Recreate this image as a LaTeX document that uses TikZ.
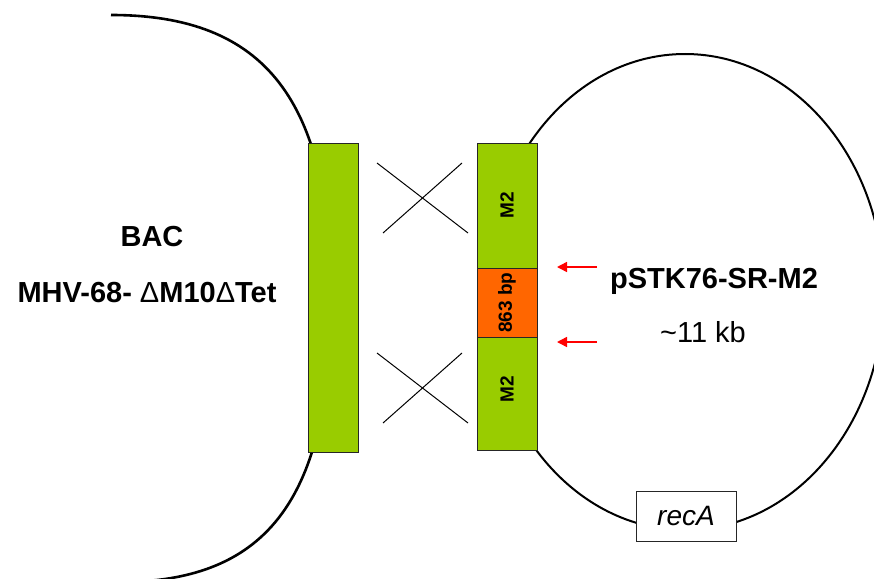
\documentclass[tikz,border=0pt]{standalone}
\usepackage{fontspec}
\setmainfont{Liberation Sans}
\usetikzlibrary{positioning,arrows.meta}

\definecolor{armgreen}{HTML}{99CC00}
\definecolor{insorange}{HTML}{FF6600}

\begin{document}
\begin{tikzpicture}[
  x=1pt,y=-1pt,
  >={Triangle[length=10pt,width=10pt]},
  arm/.style={rectangle,draw=black!85,fill=armgreen,line width=1pt,
              inner sep=0pt,outer sep=0pt},
  ins/.style={rectangle,draw=black!85,fill=insorange,line width=1pt,
              inner sep=0pt,outer sep=0pt},
  boxlab/.style={rotate=90,font=\fontsize{19}{20}\selectfont\bfseries},
  lab/.style={anchor=base,font=\fontsize{29}{32}\selectfont\bfseries},
  sub/.style={anchor=base,font=\fontsize{29}{32}\selectfont},
  gene/.style={rectangle,draw=black!85,fill=white,line width=1pt,
               minimum width=100pt,minimum height=50pt,
               font=\fontsize{28}{32}\selectfont\itshape},
  xover/.style={line width=1pt,black},
  arr/.style={->,line width=1.5pt,red}
]
\useasboundingbox (0,0) rectangle (874,578);
\clip (0,0) rectangle (874,578);

% ---- BAC backbone (left) ----
\draw[line width=2.6pt] (111,15) .. controls (265,15) and (331,100) .. (331,297.5)
  .. controls (331,495) and (270,582) .. (120,582);

% ---- plasmid (right) ----
\draw[line width=2pt] (685,292) ellipse [x radius=199pt, y radius=238pt];

% ---- homology arms ----
\node[arm,minimum width=50pt,minimum height=309pt] (bacarm) at (333,297.5) {};
\node[arm,minimum width=60pt,minimum height=125pt] (armT) at (507,205.5) {};
\node[ins,minimum width=60pt,minimum height=69pt,below=0pt of armT] (ins) {};
\node[arm,minimum width=60pt,minimum height=113pt,below=0pt of ins] (armB) {};
\node[boxlab] (armTlab) at (armT.center) {M2};
\node[boxlab] (inslab) at (ins.center) {863 bp};
\node[boxlab] (armBlab) at ([yshift=4pt]armB.center) {M2};

% ---- crossovers ----
\foreach \dy in {0,190}{
  \draw[xover] (377,163+\dy) -- (468,233+\dy);
  \draw[xover] (462,163+\dy) -- (383,233+\dy);
}

% ---- insert borders ----
\coordinate (s1) at (597,267);
\coordinate (t1) at (557,267);
\coordinate (s2) at (597,342);
\coordinate (t2) at (557,342);
\draw[arr] (s1) -- (t1);
\draw[arr] (s2) -- (t2);

% ---- labels ----
\node[lab] (bac) at (152,246.7) {BAC};
\node[lab] (bacname) at (147,302) {MHV-68- {\mdseries Δ}M10{\mdseries Δ}Tet};
\node[lab] (plasmid) at (714,288) {pSTK76-SR-M2};
\node[sub] (size) at (703,342) {\textasciitilde11 kb};
\node[gene] (reca) at (686,516) {recA};

\end{tikzpicture}
\end{document}
